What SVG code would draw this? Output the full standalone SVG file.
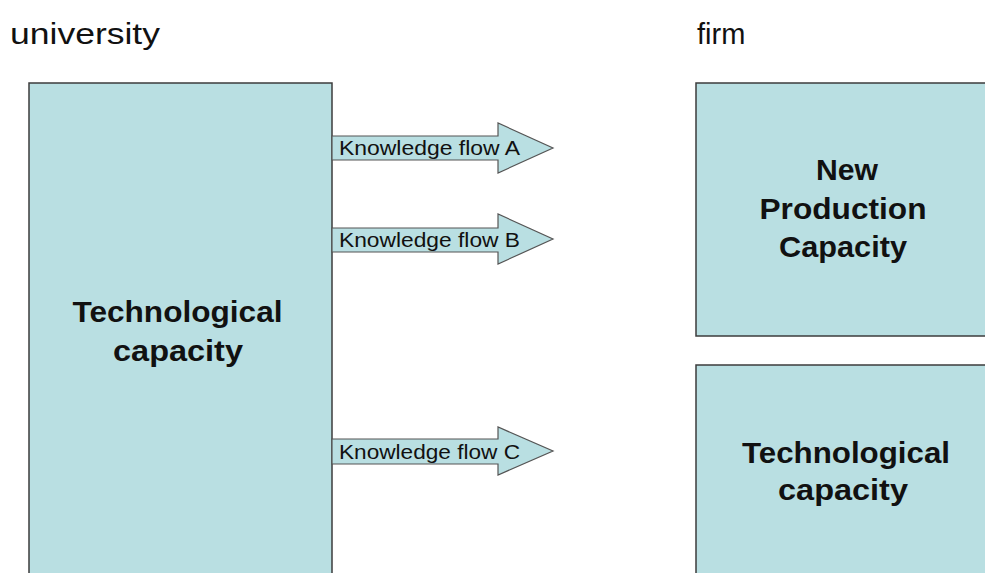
<svg xmlns="http://www.w3.org/2000/svg" width="985" height="573" viewBox="0 0 985 573">
<style>
.box{fill:#b9dfe2;stroke:#3c3c3c;stroke-width:1.5}
.arr{fill:#b9dfe2;stroke:#555;stroke-width:1.2}
.title{font-family:"Liberation Sans",Arial,sans-serif;font-size:29px;fill:#111}
.big{font-family:"Liberation Sans",Arial,sans-serif;font-size:30px;font-weight:bold;fill:#111;text-anchor:middle}
.lbl{font-family:"Liberation Sans",Arial,sans-serif;font-size:20px;fill:#111}
</style>
<rect width="985" height="573" fill="#fff"/>
<text class="title" x="10" y="44" textLength="150" lengthAdjust="spacingAndGlyphs">university</text>
<text class="title" x="697" y="44">firm</text>
<g id="univ-tech">
<rect class="box" x="29" y="83" width="303" height="500"/>
<text class="big" x="177.5" y="322" textLength="210" lengthAdjust="spacingAndGlyphs">Technological</text>
<text class="big" x="178" y="361" textLength="130" lengthAdjust="spacingAndGlyphs">capacity</text>
</g>
<g id="firm-new">
<rect class="box" x="696" y="83" width="300" height="253"/>
<text class="big" x="847" y="180" textLength="62" lengthAdjust="spacingAndGlyphs">New</text>
<text class="big" x="843" y="219" textLength="167" lengthAdjust="spacingAndGlyphs">Production</text>
<text class="big" x="843" y="257" textLength="128" lengthAdjust="spacingAndGlyphs">Capacity</text>
</g>
<g id="firm-tech">
<rect class="box" x="696" y="365" width="300" height="220"/>
<text class="big" x="846" y="463" textLength="208" lengthAdjust="spacingAndGlyphs">Technological</text>
<text class="big" x="843" y="500" textLength="130" lengthAdjust="spacingAndGlyphs">capacity</text>
</g>
<g id="connectors">
<g id="flowA">
<path class="arr" d="M332,136 H498 V123 L553,148 L498,173 V160 H332 Z"/>
<text class="lbl" x="339" y="155" textLength="181" lengthAdjust="spacingAndGlyphs">Knowledge flow A</text>
</g>
<g id="flowB">
<path class="arr" d="M332,228 H498 V214 L553,239 L498,264 V252 H332 Z"/>
<text class="lbl" x="339" y="247" textLength="181" lengthAdjust="spacingAndGlyphs">Knowledge flow B</text>
</g>
<g id="flowC">
<path class="arr" d="M332,439 H498 V427 L553,451 L498,475 V464 H332 Z"/>
<text class="lbl" x="339" y="459" textLength="181" lengthAdjust="spacingAndGlyphs">Knowledge flow C</text>
</g>
</g>
</svg>
